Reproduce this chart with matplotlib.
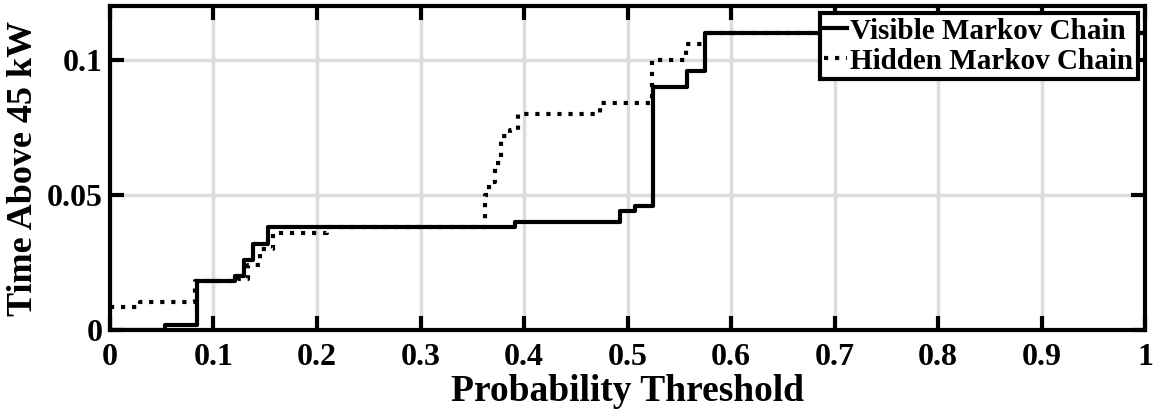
import matplotlib
matplotlib.use("Agg")
import matplotlib.pyplot as plt

# step data (steps-post)
vis_x = [0.0, 0.053, 0.084, 0.121, 0.129, 0.138, 0.153, 0.391, 0.493, 0.507, 0.525, 0.557, 0.575, 1.0]
vis_y = [0.0, 0.002, 0.018, 0.020, 0.026, 0.032, 0.038, 0.040, 0.044, 0.046, 0.090, 0.096, 0.110, 0.110]

hid_x = [0.0, 0.029, 0.082, 0.124, 0.133, 0.145, 0.157, 0.21, 0.362, 0.366, 0.372, 0.378, 0.386, 0.394,
         0.473, 0.524, 0.556, 0.575, 1.0]
hid_y = [0.0085, 0.0104, 0.018, 0.019, 0.024, 0.030, 0.036, 0.038, 0.050, 0.055, 0.062, 0.072, 0.074, 0.080,
         0.084, 0.100, 0.106, 0.110, 0.110]

xticks = [0, 0.1, 0.2, 0.3, 0.4, 0.5, 0.6, 0.7, 0.8, 0.9, 1]
xtick_labels = ["0", "0.1", "0.2", "0.3", "0.4", "0.5", "0.6", "0.7", "0.8", "0.9", "1"]
yticks = [0, 0.05, 0.1]
ytick_labels = ["0", "0.05", "0.1"]

plt.rcParams["font.family"] = ["Liberation Serif", "DejaVu Serif"]
plt.rcParams["font.weight"] = "bold"

fig = plt.figure(figsize=(11.65, 4.16), dpi=100)
ax = fig.add_axes([0.0944, 0.2067, 0.8886, 0.7789])

ax.plot(vis_x, vis_y, drawstyle="steps-post", color="black", lw=3, label="Visible Markov Chain", zorder=4)
ax.plot(hid_x, hid_y, drawstyle="steps-post", color="black", lw=3, ls=":", label="Hidden Markov Chain", zorder=3)

ax.set_xlim(0, 1)
ax.set_ylim(0, 0.12)
ax.set_xticks(xticks)
ax.set_xticklabels(xtick_labels)
ax.set_yticks(yticks)
ax.set_yticklabels(ytick_labels)
ax.grid(True, color="#dcdcdc", lw=2.5)
ax.set_axisbelow(True)
ax.tick_params(direction="in", length=10, width=3, top=True, right=True, labelsize=23, pad=5)
ax.tick_params(axis="x", pad=9)
for s in ax.spines.values():
    s.set_linewidth(3)

ax.set_xlabel("Probability Threshold", fontsize=27, fontweight="bold", labelpad=2)
ax.set_ylabel("Time Above 45 kW", fontsize=26, fontweight="bold", labelpad=5)

leg = ax.legend(loc="upper right", fontsize=21, handlelength=0.8, handletextpad=0.1,
                borderpad=0.15, labelspacing=0.1, fancybox=False, framealpha=1,
                borderaxespad=0.25)
leg.get_frame().set_edgecolor("black")
leg.get_frame().set_linewidth(3)
for t in leg.get_texts():
    t.set_fontweight("bold")

fig.savefig("out.png", dpi=100)
